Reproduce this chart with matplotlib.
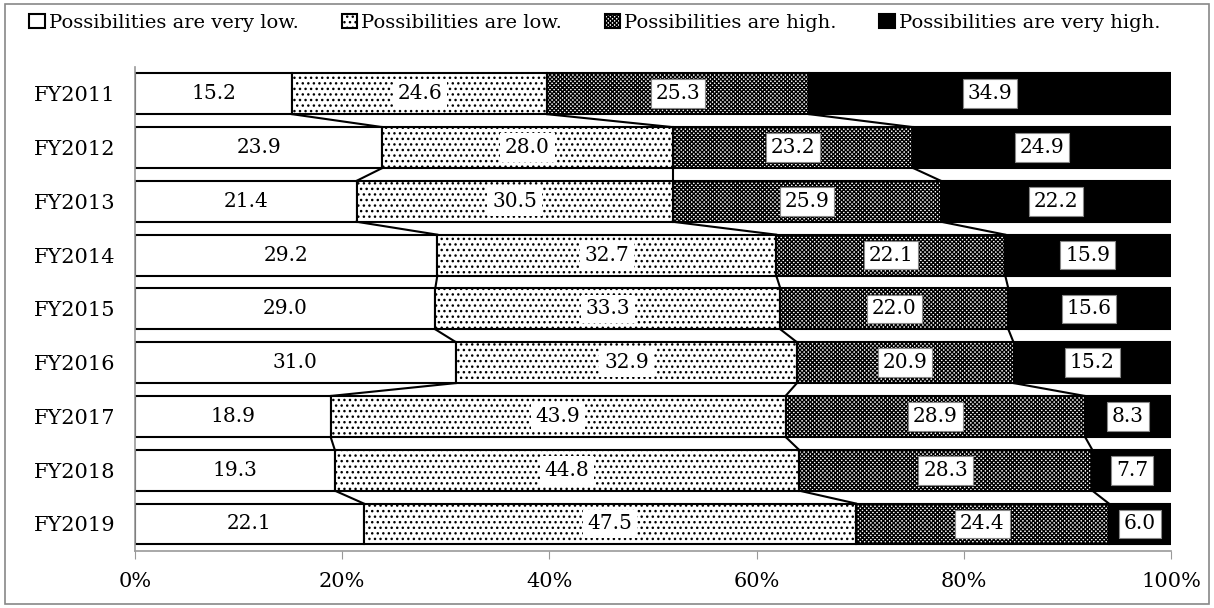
import numpy as np
import matplotlib
matplotlib.use("Agg")
import matplotlib.pyplot as plt
from matplotlib.patches import Rectangle

years = ["FY2011", "FY2012", "FY2013", "FY2014", "FY2015",
         "FY2016", "FY2017", "FY2018", "FY2019"]
series_names = ["Possibilities are very low.", "Possibilities are low.",
                "Possibilities are high.", "Possibilities are very high."]
very_low = [15.2, 23.9, 21.4, 29.2, 29.0, 31.0, 18.9, 19.3, 22.1]
low = [24.6, 28.0, 30.5, 32.7, 33.3, 32.9, 43.9, 44.8, 47.5]
high = [25.3, 23.2, 25.9, 22.1, 22.0, 20.9, 28.9, 28.3, 24.4]
very_high = [34.9, 24.9, 22.2, 15.9, 15.6, 15.2, 8.3, 7.7, 6.0]

plt.rcParams['font.family'] = ['DejaVu Serif']
plt.rcParams['hatch.linewidth'] = 1.0

fig = plt.figure(figsize=(12.14, 6.08), dpi=100)
ax = fig.add_axes([0.111, 0.094, 0.8536, 0.796])

data = np.array([very_low, low, high, very_high])
y = np.arange(len(years))
h = 0.76
styles = [dict(color="white", hatch=None),
          dict(color="white", hatch="..."),
          dict(color="white", hatch="xxxxxxxx"),
          dict(color="black", hatch=None)]

left = np.zeros(len(years))
bounds = []
for k, (vals, st, name) in enumerate(zip(data, styles, series_names)):
    ax.barh(y, vals, left=left, height=h, color=st["color"], hatch=st["hatch"],
            edgecolor="black", linewidth=1.5, label=name)
    for yi, v, l in zip(y, vals, left):
        boxed = k >= 2
        ax.text(l + v / 2, yi, f"{v:.1f}", ha="center", va="center", fontsize=14.5,
                bbox=dict(facecolor="white", edgecolor="#888888" if boxed else "none",
                          linewidth=0.8, pad=3.5))
    left = left + vals
    bounds.append(left.copy())

# series lines between bars
for b in bounds[:-1]:
    for i in range(len(years) - 1):
        ax.plot([b[i], b[i + 1]], [y[i] + h / 2, y[i + 1] - h / 2],
                color="black", linewidth=1.5)

ax.set_xlim(0, 100)
ax.set_ylim(len(years) - 0.5, -0.5)
ax.set_yticks(y)
ax.set_yticklabels(years, fontsize=15)
ax.set_xticks(np.arange(0, 101, 20))
ax.set_xticklabels([f"{t}%" for t in range(0, 101, 20)], fontsize=15)
ax.tick_params(axis="y", length=0, pad=14)
ax.tick_params(axis="x", length=6, color="#999999", pad=9)
for s in ["top", "right"]:
    ax.spines[s].set_visible(False)
for s in ["left", "bottom"]:
    ax.spines[s].set_color("#999999")
    ax.spines[s].set_linewidth(1.2)

fig.legend(loc="upper center", bbox_to_anchor=(0.49, 1.0), ncol=4, frameon=False,
           fontsize=14, handlelength=0.8, handleheight=0.8, handletextpad=0.2,
           columnspacing=2.2, borderaxespad=0.3)

fig.patches.append(Rectangle((0.004, 0.006), 0.992, 0.988, transform=fig.transFigure,
                             fill=False, edgecolor="#888888", linewidth=1.2))

fig.savefig("out.png", dpi=100)
